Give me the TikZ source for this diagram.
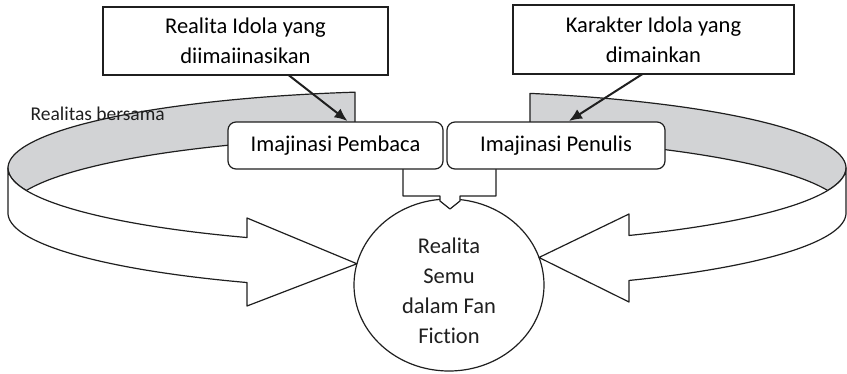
\documentclass[tikz,border=0pt]{standalone}
\usepackage{fontspec}
\setmainfont{Carlito}[Ligatures=NoCommon]
\usepackage{xcolor}
\usepackage{tikz}
\usetikzlibrary{arrows.meta}
\usetikzlibrary{calc}
\usetikzlibrary{shapes.geometric}
\tikzset{>={Latex[length=13pt,width=11pt]}}
\colorlet{ink}{black!88}
\definecolor{bandgray}{RGB}{210,211,213}
\tikzstyle{band}=[ink,line width=1.2pt,line join=round]
\tikzstyle{sqbox}=[draw=ink,line width=1.2pt,fill=white,inner sep=0pt,outer sep=0pt,align=center,font=\fontsize{22.5}{30}\selectfont]
\tikzstyle{rbox}=[sqbox,rounded corners=8pt]
\tikzstyle{pointer}=[->,ink,line width=2pt]

\begin{document}
\begin{tikzpicture}[x=1pt,y=-1pt]
  \def\cx{427}  % centre of the ring
  \def\cy{168}
  \def\ra{419}
  \def\rb{77}
  \def\h{45}    % height of the band
  \useasboundingbox (0,0) rectangle (847,373);

  % inside of the ring, seen at the back
  \draw[band,fill=bandgray,variable=\t,samples=60]
    plot[domain=260.1:163]({\cx+\ra*cos(\t)},{\cy+\rb*sin(\t)})
    -- plot[domain=197:260.1]({\cx+\ra*cos(\t)},{\cy+\h+\rb*sin(\t)}) -- cycle;
  \draw[band,fill=bandgray,variable=\t,samples=60]
    plot[domain=284.23:377]({\cx+\ra*cos(\t)},{\cy+\rb*sin(\t)})
    -- plot[domain=343:284.23]({\cx+\ra*cos(\t)},{\cy+\h+\rb*sin(\t)}) -- cycle;

  \node[ellipse,draw=ink,line width=1.2pt,fill=white,inner sep=0pt,outer sep=0pt,
        minimum width=190pt,minimum height=172pt] (semu) at (449,285) {};

  % front of the ring, ending in two arrows
  \draw[band,fill=white,variable=\t,samples=60]
    plot[domain=180:115.44]({\cx+\ra*cos(\t)},{\cy+\rb*sin(\t)})
    -- (247,218) -- (semu.167) -- (247,306)
    -- plot[domain=115.44:180]({\cx+\ra*cos(\t)},{\cy+\h+\rb*sin(\t)}) -- cycle;
  \draw[band,fill=white,variable=\t,samples=60]
    plot[domain=0:61.18]({\cx+\ra*cos(\t)},{\cy+\rb*sin(\t)})
    -- (629,214) -- (semu.17) -- (629,302)
    -- plot[domain=61.18:0]({\cx+\ra*cos(\t)},{\cy+\h+\rb*sin(\t)}) -- cycle;

  \node[align=center,font=\fontsize{22.5}{30}\selectfont,ink] (semutxt)
    at ([yshift=-6pt]semu.center) {Realita\\Semu\\dalam Fan\\Fiction};

  \filldraw[band,fill=white] (403,160) -- (403,196) -- (440,196) -- (440,201)
    -- (450,209) -- (460,201) -- (460,196) -- (496,196) -- (496,160);

  \node[rbox,minimum width=215pt,minimum height=47pt] (pembaca) at (335.5,145.5) {Imajinasi Pembaca};
  \node[rbox,minimum width=218pt,minimum height=47pt] (penulis) at (556,145.5) {Imajinasi Penulis};

  \node[sqbox,minimum width=285pt,minimum height=68pt] (realidola) at (245.5,41) {Realita Idola yang\\diimaiinasikan};
  \node[sqbox,minimum width=281pt,minimum height=69pt] (karakter) at (653.5,39.5) {Karakter Idola yang\\dimainkan};

  \draw[pointer] ([xshift=43pt]realidola.south) -- ([xshift=12pt,yshift=1pt]pembaca.north);
  \draw[pointer] ([xshift=-11pt]karakter.south) -- ([xshift=13pt,yshift=1pt]penulis.north);

  \node[anchor=base west,font=\fontsize{19.5}{24}\selectfont,ink] (bersama) at (27,120) {Realitas bersama};
\end{tikzpicture}
\end{document}
